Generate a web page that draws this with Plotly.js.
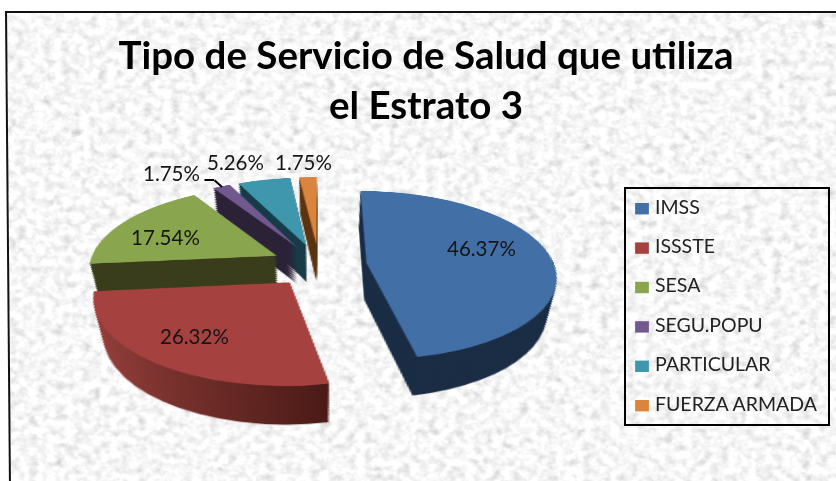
<!DOCTYPE html>
<html>
<head>
<meta charset="utf-8">
<script src="https://cdn.plot.ly/plotly-3.0.1.min.js"></script>
<style>
html,body{margin:0;padding:0;background:#fff;width:836px;height:481px;overflow:hidden}
#frame{position:absolute;left:5px;top:11px;width:840px;height:490px;border-left:2.5px solid #111;border-top:2.5px solid #111;box-shadow:inset 3px 0 0 #999;overflow:hidden;transform:skewX(0.48deg);transform-origin:0 0}
#frame svg{position:absolute;left:0;top:0}
#plot{position:absolute;left:0;top:0;width:836px;height:481px}
#plot .main-svg:first-child{transform-origin:319px 265px;transform:perspective(1164px) rotateX(63.8deg) scale(1.37)}
.pielayer .trace:not(:last-child) .slice:nth-child(2) .surface{fill:url(#redSide)!important}
.legend path.legendpie{transform:translate(27px,0) scale(1.15,.95)}
.legend text.legendtext{transform:translateY(-6px)}
</style>
</head>
<body>
<div id="frame">
<svg width="840" height="490"><filter id="granite" x="0" y="0" width="100%" height="100%">
<feTurbulence type="fractalNoise" baseFrequency="0.11 0.13" numOctaves="3" seed="7"/>
<feColorMatrix type="matrix" values="0.45 0.45 0 0 0  0.45 0.45 0 0 0  0.45 0.45 0 0 0  0 0 0 0 1"/>
<feComponentTransfer><feFuncR type="linear" slope="1.0" intercept="0.48"/><feFuncG type="linear" slope="1.0" intercept="0.48"/><feFuncB type="linear" slope="1.0" intercept="0.48"/></feComponentTransfer>
</filter><rect width="840" height="490" filter="url(#granite)"/></svg>
</div>
<svg width="0" height="0" style="position:absolute"><defs><linearGradient id="redSide" x1="0" x2="1" y1="0" y2="0"><stop offset="0" stop-color="#96403c"/><stop offset="1" stop-color="#4a1a16"/></linearGradient></defs></svg>
<div id="plot"></div>
<script>
var W = 836, H = 481;
var categories = ['IMSS','ISSSTE','SESA','SEGU.POPU','PARTICULAR','FUERZA ARMADA'];
var shares = [46.37,26.32,17.54,1.75,5.26,1.75];
var shareLabels = ['46.37%','26.32%','17.54%','1.75%','5.26%','1.75%'];
var topColors = ['#4270a6','#a5413f','#89a54e','#71588f','#3f97ae','#db843d'];
var sideColors = ['#1a2d45','#6f2c29','#393d1b','#2c2238','#173c48','#5c3512'];
var labelX = [482,194,165,171.5,235,303.5];
var labelY = [248,336,237,173,162,162];

var centerX = 319, centerY = 265, halfSize = 172, depth = 58, step = 3, taper = 0.3;
function pie(colors, shift, legend){
  var half = halfSize - shift*taper;
  return {type:'pie', labels:categories.map(function(c){return '<span style="font-size:19.5px">'+c+'</span>';}),
    values:shares, sort:false, direction:'clockwise', rotation:0,
    pull:0.255, textinfo:'none', hoverinfo:'skip', showlegend:legend,
    marker:{colors:colors, line:{width:0}},
    domain:{x:[(centerX-half)/W,(centerX+half)/W],
            y:[1-(centerY+half+shift)/H,1-(centerY-half+shift)/H]}};
}
var traces = [];
for (var d = depth; d > 0; d -= step) traces.push(pie(sideColors, d, false));
traces.push(pie(topColors, 0, true));

var annotations = shareLabels.map(function(t,i){
  return {text:t, x:labelX[i]/W, y:1-labelY[i]/H, xref:'paper', yref:'paper',
    xanchor:'center', yanchor:'middle', showarrow:false,
    font:{family:'Lato, sans-serif', size:20.5, color:'#151515'}};
});
annotations.push({text:'&nbsp;', x:624/W, y:1-187/H, xref:'paper', yref:'paper', xanchor:'left', yanchor:'top',
  showarrow:false, width:202, height:235, borderwidth:2, bordercolor:'#000', borderpad:0});
annotations.push({text:'&nbsp;', x:214/W, y:1-180/H, xref:'paper', yref:'paper', showarrow:true, arrowhead:0,
  arrowwidth:2, arrowcolor:'#000', ax:-11, ay:0, font:{size:1}});
annotations.push({text:'&nbsp;', x:222/W, y:1-187/H, xref:'paper', yref:'paper', showarrow:true, arrowhead:0,
  arrowwidth:2, arrowcolor:'#000', ax:-9, ay:-8, font:{size:1}});

var layout = {width:W, height:H, margin:{l:0,r:0,t:0,b:0}, paper_bgcolor:'rgba(0,0,0,0)', plot_bgcolor:'rgba(0,0,0,0)',
  title:{text:'<b>Tipo de Servicio de Salud que utiliza<br>el Estrato 3</b>', x:426/W, xanchor:'center', y:1-69/H, yanchor:'middle',
    font:{family:'Lato, sans-serif', size:38.5, color:'#000'}},
  legend:{x:615/W, xanchor:'left', y:1-184/H, yanchor:'top', bgcolor:'rgba(0,0,0,0)', borderwidth:0,
    font:{family:'Lato, sans-serif', size:28, color:'#222'}, traceorder:'normal'},
  annotations:annotations};
Plotly.newPlot('plot', traces, layout, {displayModeBar:false, staticPlot:true});
</script>
</body>
</html>
